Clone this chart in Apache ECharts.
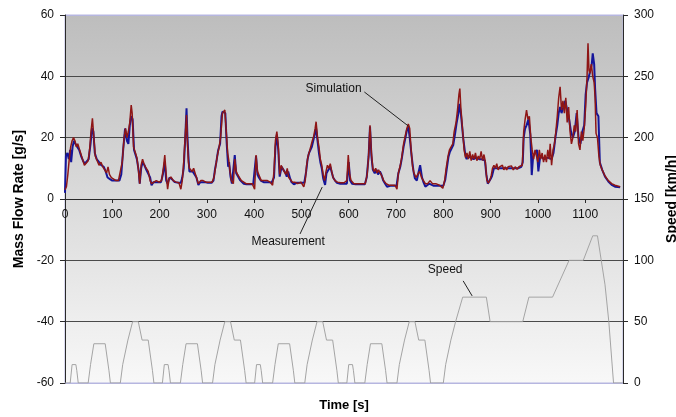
<!DOCTYPE html>
<html>
<head>
<meta charset="utf-8">
<script src="https://cdn.jsdelivr.net/npm/echarts@6/dist/echarts.min.js"></script>
<style>
  html, body { margin: 0; padding: 0; background: #ffffff; }
  #chart { width: 676px; height: 417px; }
</style>
</head>
<body>
<div id="chart"></div>
<script>
// Time axis ticks [s]
const timeTicks = [0, 100, 200, 300, 400, 500, 600, 700, 800, 900, 1000, 1100];

// Vehicle speed over the driving cycle: [time s, speed km/h]
const speedProfile = [
  [0,0],[11,0],[15,15],[23,15],[25,10],[28,0],[49,0],[54,15],[56,15],[61,32],[85,32],[93,10],[96,0],
  [117,0],[122,15],[124,15],[133,35],[135,35],[143,50],[155,50],[163,35],[176,35],[185,10],[188,0],
  [195,0],[206,0],[210,15],[218,15],[220,10],[223,0],[244,0],[249,15],[251,15],[256,32],[280,32],[288,10],[291,0],
  [312,0],[317,15],[319,15],[328,35],[330,35],[338,50],[350,50],[358,35],[371,35],[380,10],[383,0],
  [390,0],[401,0],[405,15],[413,15],[415,10],[418,0],[439,0],[444,15],[446,15],[451,32],[475,32],[483,10],[486,0],
  [507,0],[512,15],[514,15],[523,35],[525,35],[533,50],[545,50],[553,35],[566,35],[575,10],[578,0],
  [585,0],[596,0],[600,15],[608,15],[610,10],[613,0],[634,0],[639,15],[641,15],[646,32],[670,32],[678,10],[681,0],
  [702,0],[707,15],[709,15],[718,35],[720,35],[728,50],[740,50],[748,35],[761,35],[770,10],[773,0],
  [780,0],[800,0],[805,15],[807,15],[816,35],[818,35],[826,50],[828,50],[841,70],[891,70],[899,50],
  [968,50],[981,70],[1031,70],[1066,100],[1096,100],[1116,120],[1126,120],[1142,80],[1150,50],[1160,0],[1180,0]
];

// Simulated mass flow rate: [time s, g/s]
const simulation = [
  [0,2],[2,14],[5,15],[8,13],[11,16],[13,12],[16,17],[19,19],[22,18],[26,17],[30,16],[34,14],[38,12.5],
  [42,11.5],[46,11.5],[50,13],[54,18],[57,23],[60,22],[63,15],[67,13],[72,12],[77,11],[82,10.5],[86,9],
  [90,7],[95,6.5],[100,6],[105,6],[110,6],[115,6],[119,8],[123,16],[127,23],[131,19],[134,18],[137,24],
  [140,27],[143,26],[146,16],[148,15],[152,13],[156,9],[158,5],[161,10],[164,12],[168,11],[172,9.5],
  [176,9],[180,7],[183,4.5],[187,5.5],[192,5.5],[198,5.5],[203,5.5],[207,8],[211,12],[214,6],[217,5],
  [221,7],[226,6.5],[232,5.5],[240,5.3],[245,5.3],[248,7],[251,10],[254,19],[257,29.6],[259,20],[261,14],
  [263,9],[266,9.5],[270,9],[274,8.5],[278,7],[282,4.6],[286,5.5],[290,6],[296,5.5],[302,5.3],[310,5.3],
  [314,6],[317,9.5],[320,12],[324,16],[328,18],[331,27],[333,28.5],[336,28.5],[339,28],[342,18],[345,10.5],
  [347,12],[350,7.3],[353,5],[356,4.6],[359,14.3],[362,8.4],[366,7.3],[370,6.2],[374,6],[378,5],[384,4.8],
  [392,4.8],[398,4.8],[402,5],[404,14],[407,8],[410,7],[414,6],[420,5.5],[430,5.5],[437,5.3],[442,7],
  [445,17],[448,21],[451,16],[454,7.3],[458,10.5],[462,9.5],[466,8.5],[469,7.3],[472,9],[476,6.7],[479,5.5],
  [484,4.8],[490,5.3],[500,5.3],[506,5.3],[510,9],[513,13],[516,15],[519,15.4],[522,17],[525,19],[528,21],
  [531,23],[534,19],[537,15],[540,12],[543,10],[546,6.7],[550,4.6],[553,8.4],[557,9.5],[561,10.5],[564,10],
  [567,7],[571,6],[575,5.3],[582,5],[590,5],[596,5],[600,12],[603,6],[607,5],[615,4.8],[625,4.8],[634,4.8],
  [638,7],[642,13.8],[645,23.6],[648,14],[651,9.5],[655,8.4],[659,9.5],[662,8],[666,9],[669,8],[673,6],
  [677,5],[681,4],[688,4.3],[695,4.3],[701,4.3],[705,8.4],[709,10.5],[712,13],[716,17],[720,20],[723,22.5],
  [726,23.5],[729,20],[733,14],[737,9],[740,6.7],[744,6],[748,9],[751,11],[755,7],[758,5.5],[762,4],
  [766,4],[770,5],[774,5.3],[780,4.3],[790,4.3],[800,4.3],[804,6.2],[807,9.5],[811,13.8],[814,15.4],
  [818,16],[821,17.6],[825,21.4],[828,24.7],[832,28],[834,31],[837,28],[839,25],[842,20],[846,15],[849,13],
  [853,14],[858,13.5],[864,13],[870,13.5],[876,13],[882,13],[888,12.5],[891,8],[894,5],[897,5.5],[900,6.5],
  [903,7.5],[907,10],[910,10.5],[917,10],[924,10],[931,10],[940,10],[950,10],[958,10],[965,10.5],[968,12],
  [970,20],[973,23],[976,24],[980,26],[984,21],[987,7.8],[990,14],[994,14],[998,16],[1001,9],[1005,14],
  [1009,13.5],[1013,13],[1017,12.5],[1021,13.5],[1025,13],[1029,13],[1033,15],[1037,20],[1041,24],[1044,28],
  [1047,30],[1050,28],[1054,30],[1058,32],[1062,29],[1066,26],[1070,22],[1074,20],[1078,22],[1082,28],
  [1086,20],[1090,18],[1094,22],[1098,24],[1101,34],[1104,38],[1108,40],[1111,42],[1114,44],[1116,47.5],
  [1119,44],[1121,36],[1124,28],[1128,27],[1131,12],[1136,9.5],[1142,7.3],[1149,5.7],[1156,4.6],[1163,4],[1174,3.8]
];

// Measured mass flow rate: [time s, g/s]
const measurement = [
  [0,3],[3,4],[6,8],[9,13],[12,17],[15,19],[18,20],[21,19],[24,17],[27,18],[30,16.5],[33,15],[37,13],
  [41,11],[45,11.5],[49,12.5],[52,16],[55,22],[58,26.3],[61,20],[64,14],[68,12.5],[72,11],[76,12],[80,10.5],
  [84,10],[88,8.5],[91,10.5],[94,8],[98,7],[103,6.5],[108,6],[113,6],[117,6.5],[121,12],[125,20],[128,23],
  [131,20],[134,22],[137,25],[140,30.6],[142,28],[145,17],[149,15],[152,13.5],[155,10],[158,5],[161,11],
  [164,13],[167,11.5],[170,10.5],[173,11],[176,9],[180,6],[183,5],[187,5.5],[193,6],[199,5.5],[204,6],
  [208,10],[211,14.3],[214,8],[217,3.2],[220,6.5],[224,7.2],[229,6],[235,5.5],[241,5.3],[245,3.2],[248,6],
  [251,12],[254,20],[257,27.4],[259,18],[261,12],[263,10],[266,10.5],[269,9],[272,10],[275,8.5],[279,6.5],
  [282,5],[287,6],[292,6],[298,5.5],[305,5.5],[311,5.5],[315,7],[318,10],[322,14],[326,17],[329,20],[331,24],
  [333,28],[335,28.5],[338,29],[341,22],[344,15],[346,13],[349,9],[352,6],[356,5],[359,13],[362,9],[365,8],
  [369,7],[373,6],[377,5.5],[383,5],[390,5],[396,5],[401,3.2],[404,14.3],[407,9],[411,7.5],[415,6],[421,6],
  [428,6],[434,5.5],[439,4.5],[442,9],[445,19],[448,22],[451,17.5],[454,8],[457,11],[460,10],[464,9.5],
  [467,8],[470,10],[473,7],[477,7],[481,5.5],[486,5.5],[492,5],[499,5.5],[505,4],[508,6],[511,11],[514,14],
  [517,15.5],[520,16],[523,19],[526,20.5],[529,23],[531,25.2],[534,20],[537,17],[540,13],[543,11],[546,8],
  [549,6],[552,9],[555,11],[558,10],[561,11.5],[564,9],[567,7],[571,6],[576,5.5],[583,5.3],[590,5.3],
  [596,6],[599,14.3],[602,8],[605,6],[611,5],[620,5],[629,5],[635,5],[639,8],[642,14],[645,24],[648,15],
  [651,10],[654,9],[657,10],[660,8.5],[663,9.5],[666,9],[670,7.5],[674,6],[679,5],[685,4.5],[692,4.5],
  [698,4.5],[702,3.2],[705,8.4],[709,11],[712,13.5],[716,18],[720,21],[723,23],[726,24.5],[729,23],[732,16],
  [735,10.5],[738,8.5],[742,7],[746,8],[750,9],[754,7],[758,6],[762,5],[767,5],[772,6],[777,5],[784,5],
  [792,4.5],[799,3.5],[803,6.2],[806,10],[810,14],[813,16],[817,16.5],[820,18],[823,22],[827,25],[830,29],
  [833,34],[835,36],[837,30],[839,26],[841,22],[844,16],[847,13.5],[850,15],[853,13],[856,15.5],[859,12.5],
  [862,14.5],[865,13],[868,15],[871,12.5],[874,14],[877,13],[880,15.5],[883,12.5],[886,14.5],[889,12],
  [892,6.2],[895,5.2],[898,6],[901,7.3],[904,10],[907,11],[910,10],[913,11.5],[916,9.5],[919,10.5],[922,10],
  [925,11],[928,9.5],[931,10.5],[934,9.5],[937,10.5],[940,10],[944,10.8],[948,9.5],[952,10.5],[956,9.7],
  [960,10.5],[964,10],[967,11],[970,22],[973,26],[976,29],[979,26],[982,27],[985,20],[988,16],[991,13],
  [994,16],[997,14],[1000,12],[1003,16],[1006,13],[1009,15],[1012,12],[1015,14.5],[1018,12],[1021,16],
  [1024,13],[1026,18],[1029,11],[1032,16],[1035,18],[1038,22],[1041,27],[1044,33],[1047,36.6],[1050,29],
  [1053,32],[1056,28],[1059,33],[1062,25],[1065,30],[1068,22],[1071,18],[1074,20],[1077,24],[1080,22],
  [1083,29],[1086,18],[1089,16],[1092,22],[1095,19],[1098,23],[1101,30],[1104,40],[1106,50.8],[1108,42],
  [1110,41],[1113,44],[1116,40],[1119,38],[1121,33],[1123,21.4],[1126,20],[1129,14],[1132,11],[1136,9.5],
  [1142,7.5],[1149,6],[1156,5],[1163,4.5],[1174,4]
];

// Callout labels, positioned in data units (time s, g/s)
const callouts = [
  { text: 'Simulation',  label: [568, 36],    from: [633, 34.9],  to: [726, 23.8] },
  { text: 'Measurement', label: [472, -14],   from: [497, -11.4], to: [544, 3.9] },
  { text: 'Speed',       label: [804, -23.1], from: [842, -26.7], to: [861, -31.6] }
];

const FONT = '"Liberation Sans", Arial, Helvetica, sans-serif';
const AXIS_COLOR = '#2a2a2a';

const chart = echarts.init(document.getElementById('chart'), null, { renderer: 'canvas' });

const option = {
  animation: false,
  textStyle: { fontFamily: FONT },
  grid: {
    left: 65, right: 53, top: 15, bottom: 34,
    containLabel: false,
    outerBoundsMode: 'none',
    show: true,
    borderColor: '#b6b6e0',
    borderWidth: 1,
    backgroundColor: new echarts.graphic.LinearGradient(0, 0, 0, 1, [
      { offset: 0, color: '#bdbdbd' },
      { offset: 1, color: '#f8f8f8' }
    ])
  },
  xAxis: {
    type: 'value',
    min: 0, max: 1180, interval: 100,
    position: 'bottom',
    offset: 0,
    axisLine: { onZero: false, lineStyle: { color: AXIS_COLOR, width: 1 } },
    axisTick: { show: true, length: 4, inside: false, customValues: timeTicks, lineStyle: { color: AXIS_COLOR } },
    axisLabel: {
      customValues: timeTicks, color: '#111', fontSize: 12, fontFamily: FONT, margin: 10,
      formatter: (v) => String(v)
    },
    splitLine: { show: false },
    name: 'Time [s]',
    nameLocation: 'middle',
    nameGap: 200,
    nameTextStyle: { fontSize: 13, fontWeight: 'bold', color: '#000', fontFamily: FONT }
  },
  yAxis: [
    {
      type: 'value',
      min: -60, max: 60, interval: 20,
      position: 'left',
      axisLine: { show: true, lineStyle: { color: AXIS_COLOR } },
      axisTick: { show: true, length: 5, lineStyle: { color: AXIS_COLOR } },
      axisLabel: { color: '#111', fontSize: 12, fontFamily: FONT, margin: 11 },
      splitLine: {
        show: true,
        lineStyle: {
          color: ['#b6b6e0', '#4a4a4a', '#4a4a4a', '#4a4a4a', '#4a4a4a', '#4a4a4a', '#b6b6e0'],
          width: 1
        }
      },
      name: 'Mass Flow Rate [g/s]',
      nameLocation: 'middle',
      nameRotate: 90,
      nameGap: 39,
      nameTextStyle: { fontSize: 14, fontWeight: 'bold', color: '#000', fontFamily: FONT }
    },
    {
      type: 'value',
      min: 0, max: 300, interval: 50,
      position: 'right',
      axisLine: { show: true, lineStyle: { color: AXIS_COLOR } },
      axisTick: { show: true, length: 5, lineStyle: { color: AXIS_COLOR } },
      axisLabel: { color: '#111', fontSize: 12, fontFamily: FONT, margin: 11 },
      splitLine: { show: false },
      name: 'Speed [km/h]',
      nameLocation: 'middle',
      nameRotate: 90,
      nameGap: 40,
      nameTextStyle: { fontSize: 14, fontWeight: 'bold', color: '#000', fontFamily: FONT }
    }
  ],
  series: [
    {
      name: 'Speed',
      type: 'line',
      yAxisIndex: 1,
      data: speedProfile,
      symbol: 'none',
      lineStyle: { color: '#a4a4a4', width: 1 },
      z: 1
    },
    {
      name: 'Simulation',
      type: 'line',
      yAxisIndex: 0,
      data: simulation,
      symbol: 'none',
      lineStyle: { color: '#15159a', width: 2 },
      z: 2
    },
    {
      name: 'Measurement',
      type: 'line',
      yAxisIndex: 0,
      data: measurement,
      symbol: 'none',
      lineStyle: { color: '#8e1616', width: 1.5 },
      z: 3
    }
  ]
};

chart.setOption(option);

// Move the time axis up so that it crosses the flow axis at 0 g/s
const yZero = chart.convertToPixel({ yAxisIndex: 0 }, 0);
const yFloor = chart.convertToPixel({ yAxisIndex: 0 }, -60);
chart.setOption({ xAxis: { offset: yZero - yFloor } });

// Callout texts and leader lines placed through the chart's own coordinate system
const toPx = (p) => chart.convertToPixel({ xAxisIndex: 0, yAxisIndex: 0 }, p);
const graphics = [];
callouts.forEach((c) => {
  const lp = toPx(c.label);
  const a = toPx(c.from);
  const b = toPx(c.to);
  graphics.push({
    type: 'text', x: lp[0], y: lp[1], z: 10,
    style: { text: c.text, fill: '#111', font: '12px ' + FONT, textAlign: 'center', textVerticalAlign: 'middle' }
  });
  graphics.push({
    type: 'line', z: 10,
    shape: { x1: a[0], y1: a[1], x2: b[0], y2: b[1] },
    style: { stroke: '#222', lineWidth: 1 }
  });
});
chart.setOption({ graphic: graphics });
</script>
</body>
</html>
